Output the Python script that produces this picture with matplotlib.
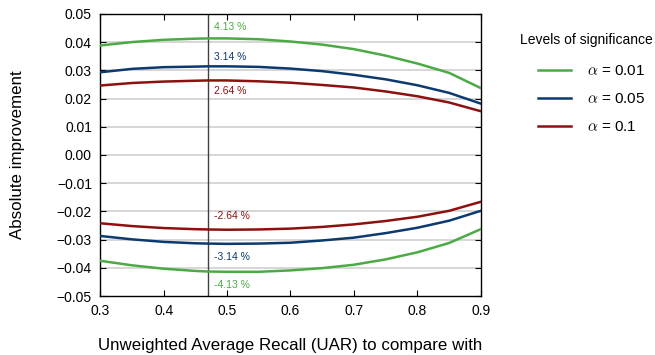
import matplotlib
matplotlib.use("Agg")
import matplotlib.pyplot as plt
from matplotlib.ticker import FuncFormatter

plt.rcParams['font.family'] = ['Liberation Sans', 'DejaVu Sans']
plt.rcParams['mathtext.fontset'] = 'cm'

# UAR of the baseline the improvement is measured against
uar = [0.30, 0.35, 0.40, 0.45, 0.47, 0.50, 0.55, 0.60, 0.65, 0.70, 0.75, 0.80, 0.85, 0.90]
uar_ref = 0.47

# upper / lower bounds of the improvement needed for significance
up_001 = [0.0388, 0.0400, 0.0408, 0.0412, 0.0413, 0.0413, 0.0410, 0.0402, 0.0391, 0.0375, 0.0352, 0.0324, 0.0291, 0.0237]
up_005 = [0.0293, 0.0305, 0.0311, 0.0313, 0.0314, 0.0314, 0.0312, 0.0306, 0.0297, 0.0284, 0.0268, 0.0247, 0.0220, 0.0182]
up_010 = [0.0246, 0.0255, 0.0260, 0.0263, 0.0264, 0.0264, 0.0261, 0.0256, 0.0248, 0.0239, 0.0225, 0.0208, 0.0186, 0.0155]
lo_001 = [-0.0375, -0.0391, -0.0403, -0.0411, -0.0413, -0.0414, -0.0414, -0.0409, -0.0401, -0.0389, -0.0370, -0.0345, -0.0312, -0.0263]
lo_005 = [-0.0287, -0.0299, -0.0308, -0.0313, -0.0314, -0.0315, -0.0314, -0.0311, -0.0303, -0.0293, -0.0277, -0.0258, -0.0233, -0.0198]
lo_010 = [-0.0242, -0.0252, -0.0259, -0.0263, -0.0264, -0.0265, -0.0264, -0.0261, -0.0255, -0.0246, -0.0234, -0.0219, -0.0198, -0.0166]

alphas = ['0.01', '0.05', '0.1']
colors = ['#4caa45', '#0b3a6e', '#8c1010']
uppers = [up_001, up_005, up_010]
lowers = [lo_001, lo_005, lo_010]
# label offsets (points) above/below the curve for the upper and lower branch
offs_up = [8, 7, -7.5]
offs_lo = [-10, -10, 9.5]

fig = plt.figure(figsize=(6.55, 3.55), dpi=100)
ax = fig.add_axes([0.153, 0.166, 0.581, 0.795])

for yv in [-0.04, -0.03, -0.02, -0.01, 0.0, 0.01, 0.02, 0.03, 0.04]:
    ax.axhline(yv, color='#cfcfcf', lw=1.2, zorder=0)

ax.axvline(uar_ref, color='#404040', lw=1.0, zorder=1)

i_ref = uar.index(uar_ref)
for a, c, up, lo, ou, ol in zip(alphas, colors, uppers, lowers, offs_up, offs_lo):
    ax.plot(uar, up, color=c, lw=1.8, label=r'$\alpha$ = %s' % a, zorder=3)
    ax.plot(uar, lo, color=c, lw=1.8, zorder=3)
    ax.annotate('%.2f %%' % (up[i_ref] * 100), (uar_ref, up[i_ref]),
                xytext=(4.5, ou), textcoords='offset points',
                color=c, fontsize=7.5, va='center', ha='left')
    ax.annotate('%.2f %%' % (lo[i_ref] * 100), (uar_ref, lo[i_ref]),
                xytext=(4.5, ol), textcoords='offset points',
                color=c, fontsize=7.5, va='center', ha='left')

ax.set_xlim(0.3, 0.9)
ax.set_ylim(-0.05, 0.05)
ax.set_xticks([0.3, 0.4, 0.5, 0.6, 0.7, 0.8, 0.9])
ax.set_yticks([-0.05, -0.04, -0.03, -0.02, -0.01, 0.0, 0.01, 0.02, 0.03, 0.04, 0.05])
ax.yaxis.set_major_formatter(FuncFormatter(lambda v, p: ('%.2f' % v).replace('-', '\u2212')))
ax.xaxis.set_major_formatter(FuncFormatter(lambda v, p: '%.1f' % v))
ax.tick_params(direction='in', top=True, right=True, length=4, width=0.8,
               labelsize=10, pad=6)
for s in ax.spines.values():
    s.set_linewidth(1.0)

ax.set_xlabel('Unweighted Average Recall (UAR) to compare with', fontsize=12.2, labelpad=14)
ax.set_ylabel('Absolute improvement', fontsize=12.2, labelpad=23)

# legend title sits left of the indented entries
fig.text(0.794, 0.887, 'Levels of significance', fontsize=10, va='center', ha='left')
ax.legend(loc='upper left', bbox_to_anchor=(0.821, 0.82),
          bbox_transform=fig.transFigure, frameon=False, fontsize=11,
          handlelength=2.2, labelspacing=0.92, handletextpad=1.0,
          borderaxespad=0, borderpad=0)

fig.savefig('out.png', dpi=100)
